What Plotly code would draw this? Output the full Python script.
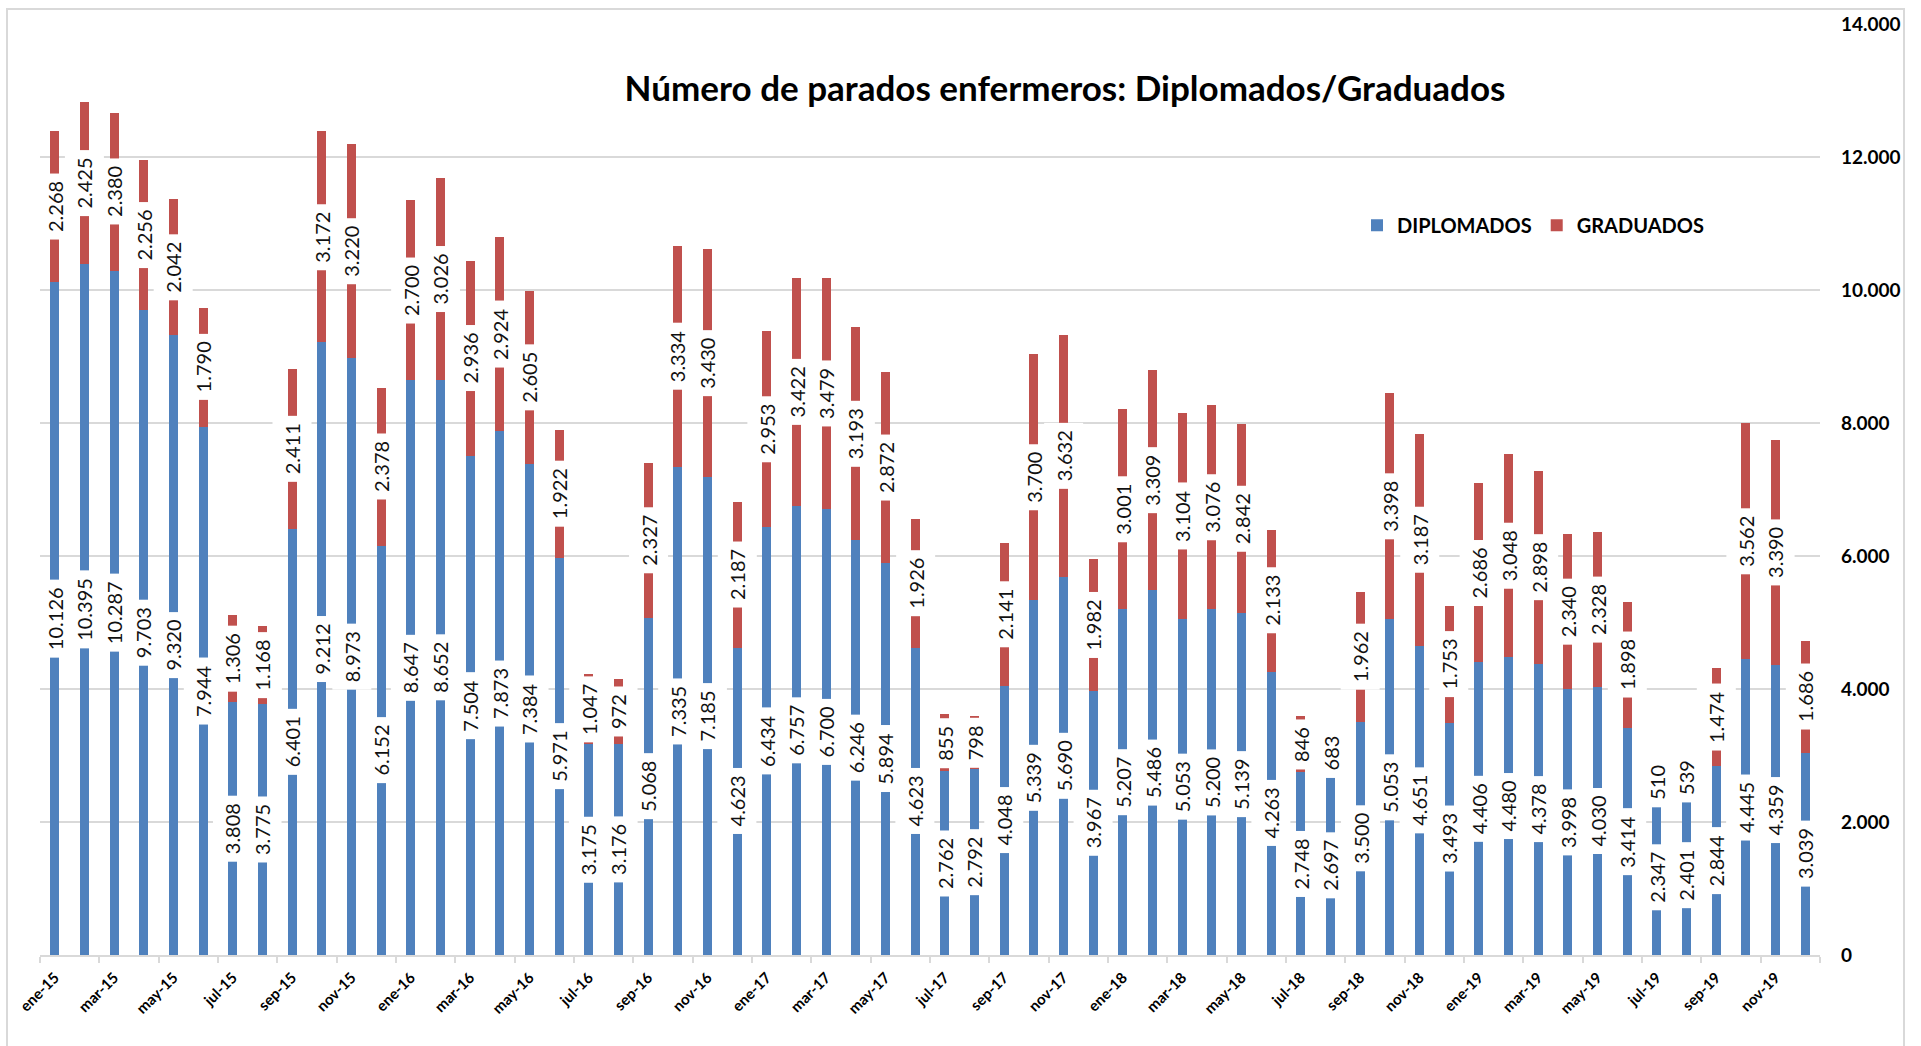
import plotly.graph_objects as go

months = ["ene", "feb", "mar", "abr", "may", "jun", "jul", "ago", "sep", "oct", "nov", "dic"]
categories = [f"{m}-{y}" for y in ["15", "16", "17", "18", "19"] for m in months]

diplomados = [10126, 10395, 10287, 9703, 9320, 7944, 3808, 3775, 6401, 9212, 8973, 6152,
              8647, 8652, 7504, 7873, 7384, 5971, 3175, 3176, 5068, 7335, 7185, 4623,
              6434, 6757, 6700, 6246, 5894, 4623, 2762, 2792, 4048, 5339, 5690, 3967,
              5207, 5486, 5053, 5200, 5139, 4263, 2748, 2697, 3500, 5053, 4651, 3493,
              4406, 4480, 4378, 3998, 4030, 3414, 2347, 2401, 2844, 4445, 4359, 3039]

graduados = [2268, 2425, 2380, 2256, 2042, 1790, 1306, 1168, 2411, 3172, 3220, 2378,
             2700, 3026, 2936, 2924, 2605, 1922, 1047, 972, 2327, 3334, 3430, 2187,
             2953, 3422, 3479, 3193, 2872, 1926, 855, 798, 2141, 3700, 3632, 1982,
             3001, 3309, 3104, 3076, 2842, 2133, 846, 683, 1962, 3398, 3187, 1753,
             2686, 3048, 2898, 2340, 2328, 1898, 510, 539, 1474, 3562, 3390, 1686]

y_tick_values = [0, 2000, 4000, 6000, 8000, 10000, 12000, 14000]
y_tick_labels = ["0", "2.000", "4.000", "6.000", "8.000", "10.000", "12.000", "14.000"]

title_text = "Número de parados enfermeros: Diplomados/Graduados"

BLUE = "#4F81BD"
RED = "#C0504D"
GRID = "#D9D9D9"


def fmt(v):
    return f"{v:,}".replace(",", ".")


x = list(range(len(categories)))

fig = go.Figure()
fig.add_trace(go.Bar(x=x, y=diplomados, name="DIPLOMADOS", marker_color=BLUE,
                     marker_line_width=0, width=0.31))
fig.add_trace(go.Bar(x=x, y=graduados, name="GRADUADOS", marker_color=RED,
                     marker_line_width=0, width=0.31))

annotations = []
label_font = dict(family="Lato, Open Sans, sans-serif", size=20, color="#111111")
for i, (d, g) in enumerate(zip(diplomados, graduados)):
    annotations.append(dict(x=i, y=d / 2, xref="x", yref="y", text=fmt(d), textangle=-90,
                            showarrow=False, bgcolor="white", borderpad=7, font=label_font))
    annotations.append(dict(x=i, y=d + g / 2, xref="x", yref="y", text=fmt(g), textangle=-90,
                            showarrow=False, bgcolor="white", borderpad=7, font=label_font))

# plot area pixel geometry
L, R, T, B = 40, 1820, 21, 955
W, H = 1921, 1046
pw, ph = R - L, B - T

def px_x(p):
    return (p - L) / pw

def px_y(p):
    return (B - p) / ph

fig.update_layout(
    width=W, height=H, autosize=False,
    barmode="stack",
    plot_bgcolor="white", paper_bgcolor="white",
    margin=dict(l=L, r=W - R, t=T, b=H - B, pad=0),
    title=dict(text=f"<b>{title_text}</b>", x=1065 / W, xref="container", xanchor="center",
               y=1 - 89 / H, yref="container", yanchor="middle",
               font=dict(family="Lato, sans-serif", size=35, color="#000000")),
    legend=dict(orientation="h", x=px_x(1357), y=px_y(223), xanchor="left", yanchor="middle",
                bgcolor="rgba(0,0,0,0)",
                font=dict(family="Lato, sans-serif", size=20, color="#000000", weight="bold"),
                traceorder="normal"),
    annotations=annotations,
    showlegend=True,
)

fig.update_xaxes(
    range=[-0.5, len(categories) - 0.5],
    tickvals=x[::2], ticktext=categories[::2],
    tickangle=-45, ticks="",
    tickfont=dict(family="Lato, sans-serif", size=15, color="#000000", weight="bold"),
    showline=True, linecolor=GRID, linewidth=2,
    showgrid=False, zeroline=False,
    ticklabelstandoff=6,
    minor=dict(tickvals=[-0.5 + 2 * k for k in range(len(categories) // 2 + 1)],
               ticks="outside", ticklen=6, tickcolor=GRID, tickwidth=2, showgrid=False),
)

fig.update_yaxes(
    range=[0, 14000], side="right",
    tickvals=y_tick_values, ticktext=y_tick_labels,
    tickfont=dict(family="Lato, sans-serif", size=19, color="#000000", weight="bold"),
    showgrid=True, gridcolor=GRID, gridwidth=2,
    zeroline=False, showline=False, ticks="",
    ticklabelstandoff=20,
)

# outer chart border
fig.add_shape(type="rect", xref="paper", yref="paper",
              x0=px_x(7), x1=px_x(1904), y0=px_y(1060), y1=px_y(6),
              line=dict(color=GRID, width=2), fillcolor="rgba(0,0,0,0)", layer="below")

fig.write_html("out.html",
               config={"displayModeBar": False},
               post_script="document.body.style.margin='0';document.body.style.overflow='hidden';")
